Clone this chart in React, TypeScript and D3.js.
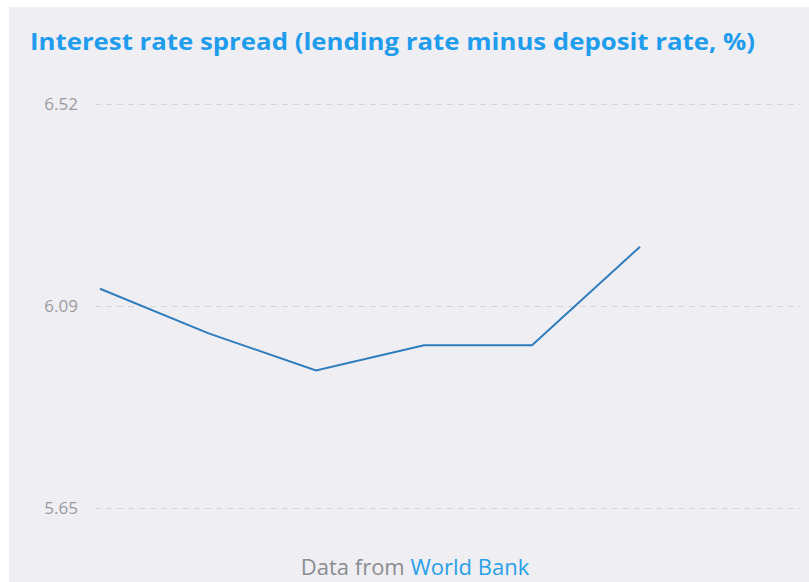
import React, { useRef, useEffect } from 'react';
import * as d3 from 'd3';

// yearly values (no x labels are shown)
const years = ['2012', '2013', '2014', '2015', '2016', '2017'];
const spread = [6.122, 6.027, 5.947, 6.001, 6.001, 6.212];
// axis runs min..max with one tick in the middle
const yMin = 5.6526;
const yMax = 6.5176;

const W = 809;
const H = 582;

export default function App() {
  const ref = useRef<SVGSVGElement>(null);

  useEffect(() => {
    if (!ref.current) return;
    drawChart(ref.current);
  }, []);

  return (
    <svg
      ref={ref}
      width={W}
      height={H}
      style={{ position: 'fixed', left: 0, top: 0, display: 'block' }}
    />
  );
}

function drawChart(el: SVGSVGElement) {
  const svg = d3.select(el);
  svg.selectAll('*').remove();

  svg.append('rect').attr('width', W).attr('height', H).attr('fill', '#ffffff');
  // card
  svg.append('rect')
    .attr('x', 9).attr('y', 7)
    .attr('width', W - 9).attr('height', H - 7)
    .attr('fill', '#efeff3');

  svg.append('text')
    .attr('x', 30).attr('y', 50)
    .attr('font-family', '"Open Sans", sans-serif')
    .attr('font-weight', 700)
    .attr('font-size', 23)
    .attr('fill', '#1f9cec')
    .attr('textLength', 725)
    .attr('lengthAdjust', 'spacingAndGlyphs')
    .text('Interest rate spread (lending rate minus deposit rate, %)');

  const x = d3.scalePoint<string>()
    .domain(years)
    .range([100, 640]);

  const y = d3.scaleLinear()
    .domain([yMin, yMax])
    .range([508, 104]);

  const g = svg.append('g');

  // grid + labels
  const axis = d3.axisLeft(y)
    .tickValues([yMin, (yMin + yMax) / 2, yMax])
    .tickFormat(d3.format('.2f'))
    .tickSize(-(800 - 95))
    .tickPadding(17);

  const ax = g.append('g').attr('transform', 'translate(95,0)').call(axis);
  ax.select('.domain').remove();
  ax.selectAll('.tick line')
    .attr('stroke', '#d6d6da')
    .attr('stroke-width', 1)
    .attr('stroke-dasharray', '6,5');
  ax.selectAll('.tick text')
    .attr('font-family', '"Open Sans", sans-serif')
    .attr('font-size', 17)
    .attr('fill', '#9a9a9e');

  const line = d3.line<number>()
    .x((_, i) => x(years[i])!)
    .y((d) => y(d));

  g.append('path')
    .datum(spread)
    .attr('d', line)
    .attr('fill', 'none')
    .attr('stroke', '#2f7dbc')
    .attr('stroke-width', 2);

  const foot = svg.append('text')
    .attr('x', 415).attr('y', 575)
    .attr('text-anchor', 'middle')
    .attr('font-family', '"Open Sans", sans-serif')
    .attr('font-size', 22);
  foot.append('tspan').attr('fill', '#8c8c90').text('Data from ');
  foot.append('tspan').attr('fill', '#2aa0e6').text('World Bank');
}
